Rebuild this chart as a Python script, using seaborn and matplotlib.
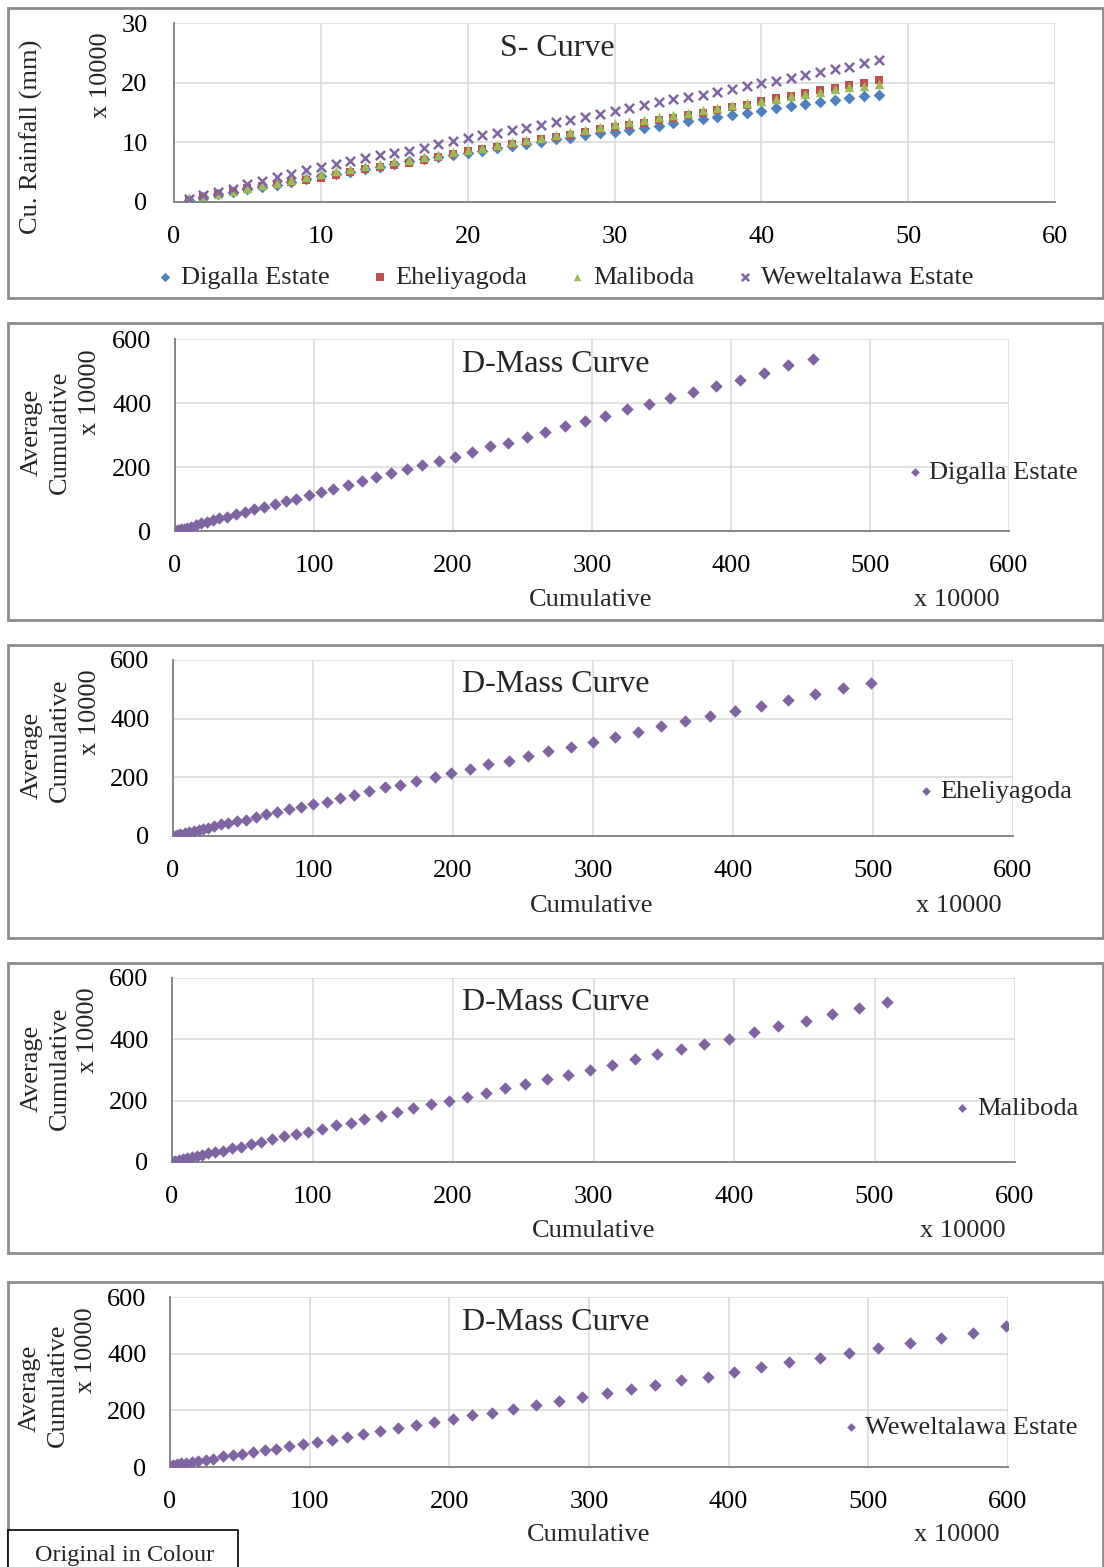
import numpy as np
import pandas as pd
import matplotlib
matplotlib.use("Agg")
import matplotlib.pyplot as plt
from matplotlib.patches import Rectangle
import seaborn as sns

# ---------------- data (values in x 10000) ----------------
months = list(range(1, 49))

digalla_s = [0.4, 0.8, 1.3, 1.7, 2.1, 2.5, 2.9, 3.3, 3.8, 4.3, 4.7, 5.1, 5.5, 5.9, 6.4, 6.8,
             7.2, 7.6, 7.9, 8.2, 8.6, 9.0, 9.4, 9.8, 10.1, 10.5, 10.8, 11.2, 11.5, 11.8, 12.1, 12.4,
             12.8, 13.2, 13.5, 13.9, 14.3, 14.6, 14.9, 15.3, 15.7, 16.1, 16.5, 16.8, 17.1, 17.4, 17.7, 17.9]
eheliya_s = [0.3, 0.9, 1.3, 1.8, 2.3, 2.6, 3.0, 3.3, 3.7, 4.1, 4.6, 5.0, 5.5, 5.8, 6.2, 6.6,
             7.0, 7.6, 8.0, 8.5, 8.9, 9.3, 9.7, 10.1, 10.5, 10.9, 11.3, 11.8, 12.2, 12.5, 12.9, 13.3,
             13.7, 14.1, 14.5, 15.0, 15.4, 15.9, 16.3, 16.9, 17.4, 17.8, 18.3, 18.7, 19.1, 19.6, 20.0, 20.5]
maliboda_s = [0.6, 1.0, 1.4, 1.9, 2.3, 2.8, 3.2, 3.7, 4.2, 4.7, 5.2, 5.6, 6.0, 6.4, 6.8, 7.1,
              7.5, 7.9, 8.3, 8.7, 9.1, 9.6, 10.0, 10.4, 10.8, 11.3, 11.7, 12.1, 12.6, 13.0, 13.4, 13.8,
              14.2, 14.6, 15.0, 15.4, 15.8, 16.2, 16.6, 16.9, 17.3, 17.7, 18.1, 18.5, 18.9, 19.2, 19.5, 19.7]
wewel_s = [0.5, 1.2, 1.7, 2.1, 3.0, 3.5, 4.2, 4.7, 5.4, 5.9, 6.4, 6.8, 7.3, 7.9, 8.2, 8.6,
           9.1, 9.8, 10.3, 10.8, 11.2, 11.6, 12.0, 12.4, 12.9, 13.4, 13.8, 14.3, 14.8, 15.3, 15.7, 16.2,
           16.7, 17.2, 17.6, 17.9, 18.5, 19.0, 19.4, 19.9, 20.3, 20.8, 21.3, 21.8, 22.3, 22.7, 23.3, 23.8]

digalla_dx = [0.4, 1.2, 2.5, 4.2, 6.3, 8.8, 11.6, 14.8, 18.5, 22.8, 27.1, 31.9, 37.2, 43.9, 50.4, 57.1,
              64.3, 71.9, 79.6, 87.3, 96.6, 105.0, 113.9, 124.2, 134.3, 144.6, 155.6, 166.7, 177.9, 189.9,
              201.4, 213.7, 226.6, 239.7, 252.9, 266.5, 280.4, 294.7, 309.3, 325.1, 340.9, 356.2, 373.0,
              389.5, 406.5, 423.4, 441.1, 459.3]
digalla_dy = [0.5, 1.5, 3.0, 5.0, 7.5, 10.4, 14.0, 18.5, 23.5, 29.0, 34.0, 39.5, 45.0, 53.0, 60.0, 67.7,
              76.0, 84.0, 92.7, 100.0, 111.5, 121.0, 131.0, 145.0, 156.0, 169.0, 181.0, 193.0, 205.0, 220.0,
              232.0, 247.0, 265.0, 276.0, 292.7, 309.4, 328.0, 344.8, 360.4, 381.3, 398.0, 416.7, 434.4,
              452.0, 473.0, 494.0, 517.7, 537.5]

eheliya_dx = [0.3, 1.2, 2.9, 5.2, 8.3, 11.4, 14.8, 18.3, 21.4, 25.2, 29.3, 34.0, 39.5, 45.9, 52.4, 59.5,
              66.7, 74.3, 82.6, 91.4, 99.8, 110.2, 119.0, 129.3, 140.0, 151.2, 161.9, 173.8, 186.9, 198.8,
              212.4, 225.0, 239.8, 253.6, 267.9, 284.0, 300.0, 316.0, 331.9, 348.6, 366.0, 383.6, 401.4,
              419.8, 439.3, 458.3, 478.6, 498.6]
eheliya_dy = [0.4, 1.5, 3.4, 6.8, 10.2, 13.6, 17.0, 21.6, 25.0, 28.4, 33.0, 39.8, 44.3, 51.1, 55.7, 65.9,
              73.9, 81.8, 90.9, 100.0, 109.0, 117.0, 130.7, 138.6, 152.3, 165.9, 173.9, 187.5, 201.0, 213.6,
              228.4, 244.3, 256.8, 271.6, 288.6, 302.3, 320.5, 338.6, 355.7, 373.9, 390.9, 408.0, 426.0,
              443.0, 464.8, 483.0, 504.5, 522.7]

maliboda_dx = [0.6, 1.3, 2.4, 4.8, 7.8, 10.9, 14.3, 17.8, 21.4, 25.7, 30.9, 36.6, 43.0, 49.4, 56.5, 63.7,
               71.3, 79.6, 88.4, 96.7, 107.1, 116.9, 127.1, 136.8, 148.9, 160.1, 171.5, 184.3, 197.1, 209.9,
               223.3, 237.0, 251.3, 266.9, 282.2, 297.2, 313.5, 329.3, 345.3, 362.1, 378.9, 396.6, 414.3,
               431.5, 450.9, 470.0, 488.9, 509.0]
maliboda_dy = [0.6, 1.5, 3.3, 6.5, 9.8, 13.0, 16.3, 19.6, 22.8, 29.3, 33.7, 37.0, 44.6, 48.9, 57.6, 65.2,
               73.9, 83.7, 91.3, 98.9, 106.5, 120.7, 128.3, 141.3, 148.9, 161.9, 175.0, 188.0, 200.0, 212.0,
               225.0, 242.4, 254.3, 271.7, 283.7, 301.1, 317.4, 334.8, 351.1, 368.5, 384.8, 402.2, 422.8,
               443.5, 460.9, 482.6, 502.2, 522.8]

wewel_dx = [0.5, 1.4, 2.4, 4.8, 7.9, 11.4, 15.5, 19.8, 25.5, 31.0, 37.6, 44.8, 51.9, 59.5, 67.9, 75.9,
            85.0, 95.2, 105.2, 116.2, 126.9, 138.1, 150.2, 163.1, 176.2, 188.8, 202.4, 216.2, 230.9, 245.9,
            262.1, 278.3, 294.8, 312.6, 329.8, 347.3, 366.1, 385.2, 404.0, 423.1, 443.4, 465.2, 485.9,
            506.9, 529.6, 552.3, 574.9, 598.8]
wewel_dy = [1.2, 3.5, 8.2, 11.8, 14.1, 15.3, 18.8, 22.4, 23.5, 28.2, 37.6, 42.4, 47.0, 51.8, 58.8, 64.7,
            74.1, 82.4, 87.0, 95.3, 104.7, 115.3, 128.2, 137.6, 147.0, 160.0, 169.4, 183.5, 189.4, 204.7,
            218.8, 232.9, 247.0, 260.0, 274.0, 288.2, 305.9, 318.8, 334.1, 351.8, 369.4, 383.5, 402.4,
            420.0, 437.6, 455.3, 474.1, 497.6]

station_names = ["Digalla Estate", "Eheliyagoda", "Maliboda", "Weweltalawa Estate"]
s_ticks_x = [0, 10, 20, 30, 40, 50, 60]
s_ticks_y = [0, 10, 20, 30]
d_ticks = [0, 100, 200, 300, 400, 500, 600]

# ---------------- styling ----------------
sns.set_theme(style="white")
plt.rcParams["font.family"] = ["Liberation Serif", "DejaVu Serif"]

W, H = 1104, 1567
fig = plt.figure(figsize=(W / 100, H / 100), dpi=100)
fig.patch.set_facecolor("white")

def fx(x):
    return x / W

def fy(y):
    return 1 - y / H

def add_ax(x0, x1, y0, y1):
    return fig.add_axes([fx(x0), fy(y1), (x1 - x0) / W, (y1 - y0) / H])

GRID = "#D9D9D9"
SPINE = "#868686"
FS = 19
PURPLE = "#8064A2"
colors = ["#4F81BD", "#C0504D", "#9BBB59", "#8064A2"]

def style_axes(ax, xt, yt):
    ax.set_xticks(xt)
    ax.set_yticks(yt)
    ax.set_xlim(xt[0], xt[-1])
    ax.set_ylim(yt[0], yt[-1])
    ax.grid(True, color=GRID, linewidth=1.1)
    ax.set_axisbelow(True)
    for s in ["top", "right"]:
        ax.spines[s].set_visible(False)
    for s in ["left", "bottom"]:
        ax.spines[s].set_visible(True)
        ax.spines[s].set_color(SPINE)
        ax.spines[s].set_linewidth(1.4)
    ax.tick_params(axis="both", which="major", direction="out", length=5, width=1.2,
                   color=SPINE, labelsize=FS, labelcolor="black")
    ax.set_xlabel("")
    ax.set_ylabel("")
    ax.set_facecolor("white")

def frame(y0, y1, x0=8, x1=1103):
    fig.patches.append(Rectangle((fx(x0), fy(y1)), (x1 - x0) / W, (y1 - y0) / H,
                                 transform=fig.transFigure, fill=False,
                                 edgecolor="#8C8C8C", linewidth=2.0, zorder=0))

# ---------------- panel 1 : S-curve ----------------
frame(8, 298)
ax1 = add_ax(174, 1055, 23, 202)
s_series = [digalla_s, eheliya_s, maliboda_s, wewel_s]
s_markers = ["D", "s", "^", "x"]
s_sizes = [36, 40, 46, 44]
for name, vals, col, mk, sz in zip(station_names, s_series, colors, s_markers, s_sizes):
    df = pd.DataFrame({"month": months, "rain": vals})
    if mk == "x":
        sns.scatterplot(data=df, x="month", y="rain", ax=ax1, color=col, marker=mk,
                        s=sz, linewidth=1.8, label=name, zorder=3)
    else:
        sns.scatterplot(data=df, x="month", y="rain", ax=ax1, color=col, marker=mk,
                        s=sz, edgecolor=col, linewidth=0, label=name, zorder=3)
style_axes(ax1, s_ticks_x, s_ticks_y)
ax1.tick_params(axis="x", pad=12)
ax1.tick_params(axis="y", pad=14)
handles, labels = ax1.get_legend_handles_labels()
ax1.get_legend().remove()
fig.legend(handles, labels, loc="center", bbox_to_anchor=(fx(565), fy(277)),
           ncol=4, frameon=False, fontsize=FS, handlelength=0.6, handletextpad=0.3,
           columnspacing=1.6, markerscale=0.8, borderpad=0)
fig.text(fx(557), fy(48), "S- Curve", ha="center", va="center", fontsize=23)
fig.text(fx(31), fy(137), "Cu. Rainfall (mm)", rotation=90, ha="center", va="center", fontsize=FS)
fig.text(fx(101), fy(75), "x 10000", rotation=90, ha="center", va="center", fontsize=FS)

# ---------------- D-mass panels ----------------
panels = [
    dict(frame=(323, 620), ax=(175, 1009, 339, 531), x=digalla_dx, y=digalla_dy, name=station_names[0],
         title_y=365, leg=(1078, 472), xl_y=600, xl_x=591, xk_x=957,
         av=(32, 432), cu=(60, 432), xk=(90, 392)),
    dict(frame=(645, 938), ax=(173, 1013, 660, 836), x=eheliya_dx, y=eheliya_dy, name=station_names[1],
         title_y=685, leg=(1072, 791), xl_y=906, xl_x=592, xk_x=959,
         av=(32, 755), cu=(60, 740), xk=(90, 712)),
    dict(frame=(963, 1253), ax=(172, 1015, 978, 1162), x=maliboda_dx, y=maliboda_dy, name=station_names[2],
         title_y=1003, leg=(1078, 1108), xl_y=1231, xl_x=594, xk_x=963,
         av=(32, 1068), cu=(60, 1068), xk=(88, 1030)),
    dict(frame=(1282, 1600), ax=(170, 1008, 1297, 1467), x=wewel_dx, y=wewel_dy, name=station_names[3],
         title_y=1322, leg=(1078, 1427), xl_y=1535, xl_x=589, xk_x=957,
         av=(30, 1388), cu=(58, 1385), xk=(86, 1350)),
]

for p in panels:
    frame(*p["frame"])
    x0, x1, y0, y1 = p["ax"]
    ax = add_ax(x0, x1, y0, y1)
    df = pd.DataFrame({"cum": p["x"], "avg": p["y"]})
    sns.scatterplot(data=df, x="cum", y="avg", ax=ax, color=PURPLE, marker="D",
                    s=40, edgecolor=PURPLE, linewidth=0, label=p["name"], zorder=3)
    style_axes(ax, d_ticks, d_ticks[::2])
    ax.tick_params(axis="x", pad=12)
    ax.tick_params(axis="y", pad=12)
    ax.get_legend().remove()
    h, l = ax.get_legend_handles_labels()
    fig.legend(h, l, loc="center right", bbox_to_anchor=(fx(p["leg"][0]), fy(p["leg"][1])),
               frameon=False, fontsize=FS, handlelength=0.4, handletextpad=0.35,
               markerscale=0.7, borderpad=0, borderaxespad=0)
    fig.text(fx(556), fy(p["title_y"]), "D-Mass Curve", ha="center", va="center", fontsize=23)
    fig.text(fx(p["xl_x"]), fy(p["xl_y"]), "Cumulative", ha="center", va="center", fontsize=FS)
    fig.text(fx(p["xk_x"]), fy(p["xl_y"]), "x 10000", ha="center", va="center", fontsize=FS)
    fig.text(fx(p["av"][0]), fy(p["av"][1]), "Average", rotation=90, ha="center", va="center", fontsize=FS)
    fig.text(fx(p["cu"][0]), fy(p["cu"][1]), "Cumulative", rotation=90, ha="center", va="center", fontsize=FS)
    fig.text(fx(p["xk"][0]), fy(p["xk"][1]), "x 10000", rotation=90, ha="center", va="center", fontsize=FS)

# ---------------- "Original in Colour" box ----------------
fig.patches.append(Rectangle((fx(8), fy(1600)), (238 - 8) / W, (1600 - 1530) / H,
                             transform=fig.transFigure, facecolor="white",
                             edgecolor="black", linewidth=1.2, zorder=5))
fig.text(fx(35), fy(1555), "Original in Colour", ha="left", va="center", fontsize=17.5, zorder=6)

fig.savefig("out.png", dpi=100, facecolor="white")
